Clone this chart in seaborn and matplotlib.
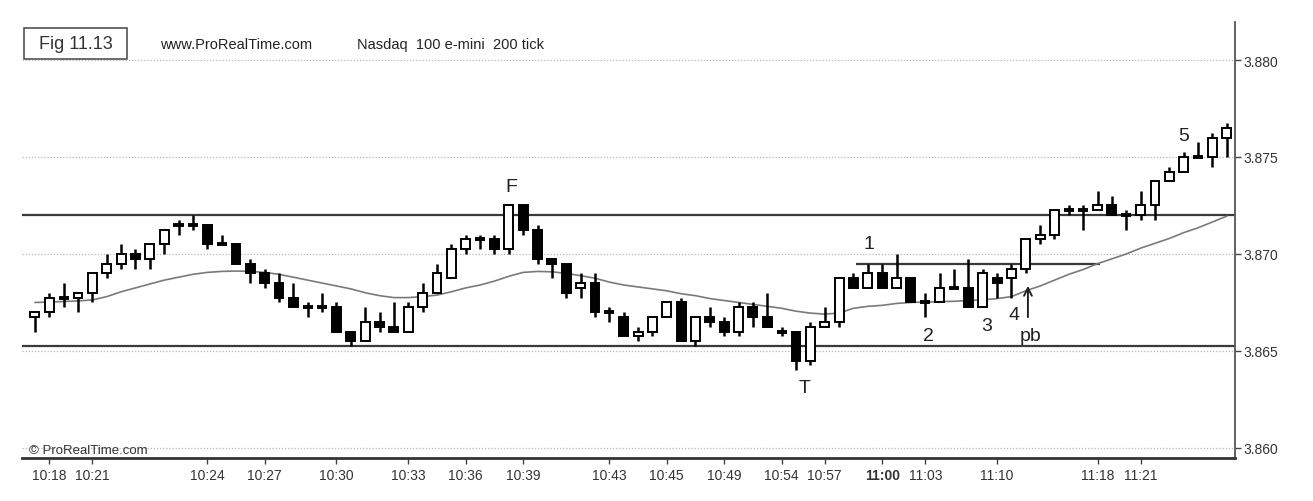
import matplotlib
matplotlib.use("Agg")
import matplotlib.pyplot as plt
from matplotlib.patches import Rectangle
import seaborn as sns
import numpy as np
import pandas as pd

# ---------------- data ----------------
opens = [3866.75, 3867.0, 3867.75, 3867.75, 3868.0, 3869.0, 3869.5, 3870.0, 3869.75, 3870.5,
         3871.5, 3871.5, 3871.5, 3870.5, 3870.5, 3869.5, 3869.0, 3868.5, 3867.75, 3867.25,
         3867.25, 3867.25, 3866.0, 3865.5, 3866.5, 3866.25, 3866.0, 3867.25, 3868.0, 3868.75,
         3870.25, 3870.75, 3870.75, 3870.25, 3872.5, 3871.25, 3869.75, 3869.5, 3868.25, 3868.5,
         3867.0, 3866.75, 3865.75, 3866.0, 3866.75, 3867.5, 3865.5, 3866.75, 3866.5, 3866.0,
         3867.25, 3866.75, 3866.0, 3866.0, 3864.5, 3866.25, 3866.5, 3868.75, 3868.25, 3869.0,
         3868.25, 3868.75, 3867.5, 3867.5, 3868.25, 3868.25, 3867.25, 3868.75, 3868.75, 3869.25,
         3870.75, 3871.0, 3872.25, 3872.25, 3872.25, 3872.5, 3872.0, 3872.0, 3872.5, 3873.75,
         3874.25, 3875.0, 3875.0, 3876.0]
highs = [3867.0, 3868.0, 3868.5, 3868.0, 3869.0, 3870.0, 3870.5, 3870.25, 3870.5, 3871.25,
         3871.75, 3872.0, 3871.5, 3871.0, 3870.5, 3869.75, 3869.25, 3869.0, 3868.5, 3867.5,
         3868.0, 3867.5, 3866.0, 3867.25, 3867.0, 3867.5, 3867.5, 3868.5, 3869.5, 3870.5,
         3871.0, 3871.0, 3871.0, 3872.5, 3872.5, 3871.5, 3869.75, 3869.5, 3869.0, 3869.0,
         3867.25, 3867.0, 3866.25, 3866.75, 3867.5, 3867.75, 3866.75, 3867.25, 3866.75, 3867.5,
         3867.5, 3868.0, 3866.25, 3866.0, 3866.5, 3867.25, 3868.75, 3869.0, 3869.5, 3869.5,
         3870.0, 3868.75, 3868.0, 3869.0, 3869.25, 3869.75, 3869.25, 3869.0, 3869.5, 3870.75,
         3871.5, 3872.25, 3872.5, 3872.5, 3873.25, 3873.0, 3872.25, 3873.25, 3873.75, 3874.5,
         3875.25, 3875.75, 3876.25, 3876.75]
lows = [3866.0, 3866.75, 3867.25, 3867.0, 3867.5, 3868.75, 3869.25, 3869.25, 3869.25, 3870.0,
        3871.0, 3871.25, 3870.25, 3870.5, 3869.5, 3868.5, 3868.25, 3867.5, 3867.25, 3866.75,
        3867.0, 3866.0, 3865.25, 3865.5, 3866.0, 3866.0, 3866.0, 3867.0, 3868.0, 3868.75,
        3870.0, 3870.25, 3870.0, 3870.0, 3871.0, 3869.5, 3868.75, 3867.75, 3867.75, 3866.75,
        3866.5, 3865.75, 3865.5, 3865.75, 3866.75, 3865.5, 3865.25, 3866.25, 3865.75, 3865.75,
        3866.25, 3866.25, 3865.75, 3864.0, 3864.25, 3866.25, 3866.25, 3868.25, 3868.25, 3868.25,
        3868.25, 3867.5, 3866.75, 3867.5, 3868.25, 3867.25, 3867.25, 3867.75, 3867.75, 3869.0,
        3870.5, 3870.75, 3872.0, 3871.25, 3872.25, 3872.0, 3871.25, 3871.75, 3871.75, 3873.75,
        3874.25, 3875.0, 3874.5, 3875.0]
closes = [3867.0, 3867.75, 3867.75, 3868.0, 3869.0, 3869.5, 3870.0, 3869.75, 3870.5, 3871.25,
          3871.5, 3871.5, 3870.5, 3870.5, 3869.5, 3869.0, 3868.5, 3867.75, 3867.25, 3867.25,
          3867.25, 3866.0, 3865.5, 3866.5, 3866.25, 3866.0, 3867.25, 3868.0, 3869.0, 3870.25,
          3870.75, 3870.75, 3870.25, 3872.5, 3871.25, 3869.75, 3869.5, 3868.0, 3868.5, 3867.0,
          3867.0, 3865.75, 3866.0, 3866.75, 3867.5, 3865.5, 3866.75, 3866.5, 3866.0, 3867.25,
          3866.75, 3866.25, 3866.0, 3864.5, 3866.25, 3866.5, 3868.75, 3868.25, 3869.0, 3868.25,
          3868.75, 3867.5, 3867.5, 3868.25, 3868.25, 3867.25, 3869.0, 3868.5, 3869.25, 3870.75,
          3871.0, 3872.25, 3872.25, 3872.25, 3872.5, 3872.0, 3872.0, 3872.5, 3873.75, 3874.25,
          3875.0, 3875.0, 3876.0, 3876.5]
moving_avg = [3867.5, 3867.52, 3867.55, 3867.58, 3867.63, 3867.8, 3868.05, 3868.25, 3868.45, 3868.65,
              3868.8, 3868.95, 3869.05, 3869.1, 3869.12, 3869.1, 3869.05, 3868.95, 3868.8, 3868.65,
              3868.5, 3868.35, 3868.2, 3868.0, 3867.85, 3867.75, 3867.75, 3867.8, 3867.88, 3868.05,
              3868.25, 3868.4, 3868.6, 3868.85, 3869.05, 3869.1, 3869.08, 3869.0, 3868.88, 3868.75,
              3868.55, 3868.4, 3868.3, 3868.2, 3868.1, 3867.95, 3867.85, 3867.7, 3867.6, 3867.5,
              3867.4, 3867.3, 3867.2, 3867.05, 3866.95, 3866.9, 3866.95, 3867.2, 3867.3, 3867.35,
              3867.45, 3867.5, 3867.52, 3867.54, 3867.56, 3867.6, 3867.63, 3867.7, 3867.8, 3868.1,
              3868.35, 3868.65, 3868.95, 3869.2, 3869.5, 3869.75, 3870.0, 3870.3, 3870.55, 3870.8,
              3871.1, 3871.35, 3871.65, 3871.95]

time_labels = ["10:18", "10:21", "10:24", "10:27", "10:30", "10:33", "10:36", "10:39", "10:43",
               "10:45", "10:49", "10:54", "10:57", "11:00", "11:03", "11:10", "11:18", "11:21"]
time_ticks = [1, 4, 12, 16, 21, 26, 30, 34, 40, 44, 48, 52, 55, 59, 62, 67, 74, 77]
price_ticks = [3860, 3865, 3870, 3875, 3880]
price_labels = ["3.860", "3.865", "3.870", "3.875", "3.880"]

upper_level = 3872.0
lower_level = 3865.25
range_level = 3869.5
range_span = [57.2, 74.2]

annot_text = ["F", "T", "1", "2", "3", "4", "pb", "5"]
annot_x = [33.2, 53.6, 58.1, 62.2, 66.3, 68.2, 69.3, 80.0]
annot_y = [3873.5, 3863.1, 3870.55, 3865.8, 3866.3, 3866.9, 3865.8, 3876.1]

# ---------------- styling ----------------
sns.set_theme(style="white")
plt.rcParams['font.family'] = ['Liberation Sans', 'DejaVu Sans']

W, H = 1313, 502
fig = plt.figure(figsize=(W / 100, H / 100), dpi=100)
ax = fig.add_axes([22 / W, (H - 459) / H, (1235 - 22) / W, (459 - 23) / H])

df = pd.DataFrame({"idx": np.arange(len(opens)), "open": opens, "high": highs,
                   "low": lows, "close": closes, "ma": moving_avg})
df["bottom"] = df[["open", "close"]].min(axis=1)
df["height"] = (df["close"] - df["open"]).abs()
df["up"] = df["close"] >= df["open"]
df["doji"] = df["height"] == 0

# dotted grid
for p in price_ticks:
    ax.axhline(p, color="#b8b8b8", lw=0.9, ls=(0, (1, 1.5)), zorder=0)

# support / resistance lines
ax.axhline(upper_level, color="#3a3a3a", lw=1.6, zorder=1)
ax.axhline(lower_level, color="#3a3a3a", lw=1.6, zorder=1)
ax.hlines(range_level, range_span[0], range_span[1], color="#3a3a3a", lw=1.6, zorder=1)

# moving average
sns.lineplot(data=df, x="idx", y="ma", color="#7a7a7a", lw=1.2, ax=ax, zorder=2)

# wicks
ax.vlines(df["idx"], df["low"], df["high"], color="black", lw=1.8, zorder=3)
# bodies
body = df[~df["doji"]]
ax.bar(body["idx"], body["height"], bottom=body["bottom"], width=0.62,
       color=np.where(body["up"], "white", "black"), edgecolor="black",
       linewidth=1.4, zorder=4)
dj = df[df["doji"]]
ax.hlines(dj["open"], dj["idx"] - 0.35, dj["idx"] + 0.35, color="black", lw=2.8, zorder=4)

# annotations
for t, x, y in zip(annot_text, annot_x, annot_y):
    ax.text(x, y, t, ha="center", va="center", fontsize=14, color="#222222", zorder=6)
ax.annotate("", xy=(69.15, 3868.5), xytext=(69.15, 3866.6),
            arrowprops=dict(arrowstyle="->", color="#222222", lw=1.4, mutation_scale=14),
            zorder=6)

# axes
ax.set_xlim(-0.9, 83.57)
ax.set_ylim(3859.48, 3881.96)
ax.set_xticks(time_ticks)
ax.set_xticklabels(time_labels)
for lab in ax.get_xticklabels():
    if lab.get_text() == "11:00":
        lab.set_fontweight("bold")
ax.set_yticks(price_ticks)
ax.set_yticklabels(price_labels)
ax.yaxis.tick_right()
ax.tick_params(axis="both", which="both", direction="out", length=4, width=1,
               color="#444444", labelsize=10, labelcolor="#333333", pad=2)
ax.tick_params(axis="x", bottom=True, pad=3)
ax.tick_params(axis="y", right=True, left=False)
ax.set_xlabel("")
ax.set_ylabel("")
for s in ["left", "top"]:
    ax.spines[s].set_visible(False)
ax.spines["right"].set_color("#555555")
ax.spines["right"].set_linewidth(1.3)
ax.spines["bottom"].set_color("#333333")
ax.spines["bottom"].set_linewidth(2.0)

# header
fig.patches.append(Rectangle((24 / W, 1 - 60 / H), 103 / W, 31 / H, transform=fig.transFigure,
                             fill=False, ec="#444444", lw=1.1))
fig.text(75.5 / W, 1 - 44.5 / H, "Fig 11.13", ha="center", va="center", fontsize=13, color="#333333")
fig.text(160 / W, 1 - 45 / H, "www.ProRealTime.com", ha="left", va="center", fontsize=10.5, color="#222222")
fig.text(357 / W, 1 - 45 / H, "Nasdaq  100 e-mini  200 tick", ha="left", va="center", fontsize=10.5, color="#222222")
fig.text(29 / W, 1 - 451 / H, "\u00a9 ProRealTime.com", ha="left", va="center", fontsize=9.5, color="#333333")

fig.savefig("out.png", dpi=100, facecolor="white")
